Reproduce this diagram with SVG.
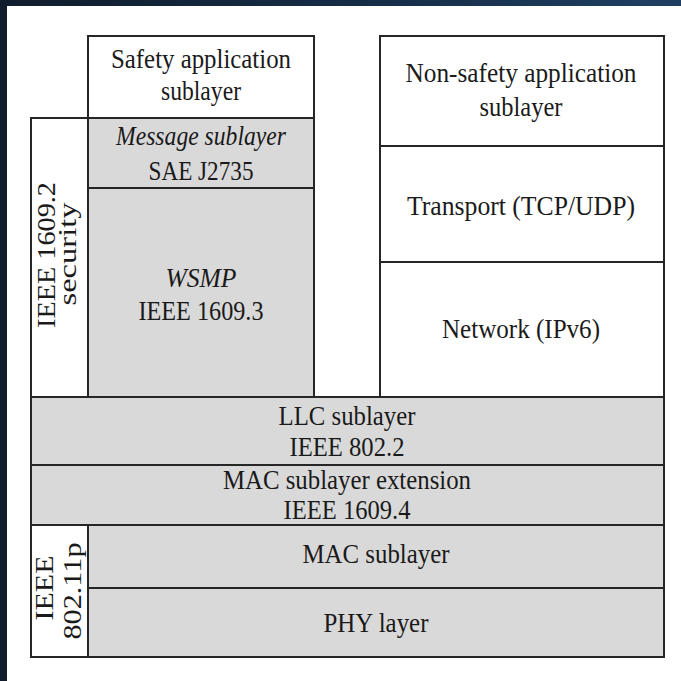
<svg xmlns="http://www.w3.org/2000/svg" width="681" height="681" viewBox="0 0 681 681">
  <defs>
    <linearGradient id="frame" x1="0" y1="0" x2="1" y2="0">
      <stop offset="0" stop-color="#0f1c2b"/>
      <stop offset="0.6" stop-color="#172f4a"/>
      <stop offset="1" stop-color="#1f3f62"/>
    </linearGradient>
  </defs>
  <style>
    .box { stroke: #262626; stroke-width: 2; }
    .white { fill: #ffffff; }
    .grey { fill: #d9d9d9; }
    text { font-family: "Liberation Serif", "Times New Roman", serif; font-size: 27px; fill: #1a1a1a; text-anchor: middle; }
    .it { font-style: italic; }
    .v { font-size: 25px; }
  </style>

  <!-- dark frame and page -->
  <rect x="0" y="0" width="681" height="681" fill="url(#frame)"/>
  <rect x="7" y="6" width="674" height="675" fill="#ffffff"/>

  <!-- left stack: safety side -->
  <g id="safety-app">
    <rect class="box white" x="88" y="36" width="226" height="82"/>
    <text x="201" y="68" textLength="180" lengthAdjust="spacingAndGlyphs">Safety application</text>
    <text x="201" y="100" textLength="80" lengthAdjust="spacingAndGlyphs">sublayer</text>
  </g>
  <g id="security">
    <rect class="box white" x="31" y="118" width="57" height="279"/>
    <text class="v" transform="translate(55,255) rotate(-90)" textLength="146" lengthAdjust="spacingAndGlyphs">IEEE 1609.2</text>
    <text class="v" transform="translate(76,254) rotate(-90)" textLength="103" lengthAdjust="spacingAndGlyphs">security</text>
  </g>
  <g id="message">
    <rect class="box grey" x="88" y="118" width="226" height="70"/>
    <text class="it" x="201" y="145" textLength="170" lengthAdjust="spacingAndGlyphs">Message sublayer</text>
    <text x="201" y="180" textLength="105" lengthAdjust="spacingAndGlyphs">SAE J2735</text>
  </g>
  <g id="wsmp">
    <rect class="box grey" x="88" y="188" width="226" height="209"/>
    <text class="it" x="201" y="287" textLength="71" lengthAdjust="spacingAndGlyphs">WSMP</text>
    <text x="201" y="320" textLength="125" lengthAdjust="spacingAndGlyphs">IEEE 1609.3</text>
  </g>

  <!-- right stack: non-safety side -->
  <g id="non-safety-app">
    <rect class="box white" x="380" y="36" width="284" height="110"/>
    <text x="521" y="82" textLength="231" lengthAdjust="spacingAndGlyphs">Non-safety application</text>
    <text x="521" y="116" textLength="83" lengthAdjust="spacingAndGlyphs">sublayer</text>
  </g>
  <g id="transport">
    <rect class="box white" x="380" y="146" width="284" height="116"/>
    <text x="521" y="215" textLength="228" lengthAdjust="spacingAndGlyphs">Transport (TCP/UDP)</text>
  </g>
  <g id="network">
    <rect class="box white" x="380" y="262" width="284" height="135"/>
    <text x="521" y="338" textLength="158" lengthAdjust="spacingAndGlyphs">Network (IPv6)</text>
  </g>

  <!-- shared lower layers -->
  <g id="llc">
    <rect class="box grey" x="31" y="397" width="633" height="68"/>
    <text x="347" y="425" textLength="137" lengthAdjust="spacingAndGlyphs">LLC sublayer</text>
    <text x="347" y="456" textLength="115" lengthAdjust="spacingAndGlyphs">IEEE 802.2</text>
  </g>
  <g id="mac-ext">
    <rect class="box grey" x="31" y="465" width="633" height="60"/>
    <text x="347" y="489" textLength="248" lengthAdjust="spacingAndGlyphs">MAC sublayer extension</text>
    <text x="347" y="519" textLength="127" lengthAdjust="spacingAndGlyphs">IEEE 1609.4</text>
  </g>
  <g id="ieee-80211p">
    <rect class="box white" x="31" y="525" width="57" height="132"/>
    <text class="v" transform="translate(53,588) rotate(-90)" textLength="65" lengthAdjust="spacingAndGlyphs">IEEE</text>
    <text class="v" transform="translate(81,591) rotate(-90)" textLength="97" lengthAdjust="spacingAndGlyphs">802.11p</text>
  </g>
  <g id="mac">
    <rect class="box grey" x="88" y="525" width="576" height="63"/>
    <text x="376" y="563" textLength="147" lengthAdjust="spacingAndGlyphs">MAC sublayer</text>
  </g>
  <g id="phy">
    <rect class="box grey" x="88" y="588" width="576" height="69"/>
    <text x="376" y="632" textLength="105" lengthAdjust="spacingAndGlyphs">PHY layer</text>
  </g>
</svg>
